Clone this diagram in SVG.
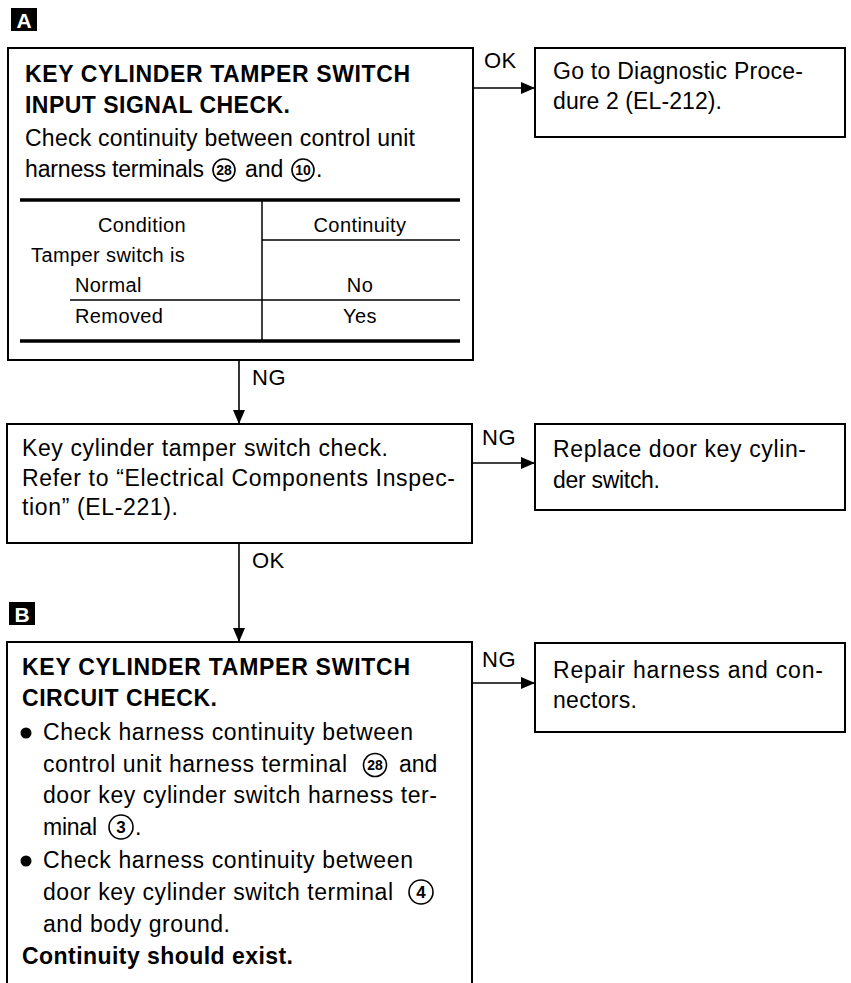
<svg xmlns="http://www.w3.org/2000/svg" width="851" height="983" viewBox="0 0 851 983">
<style>
text{font-family:"Liberation Sans",Arial,Helvetica,sans-serif;fill:#000}
.t{font-size:23px}
.b{font-size:23px;font-weight:bold}
.tb{font-size:20px;letter-spacing:0.4px}
.lb{font-size:22px;letter-spacing:0.5px}
.cn{font-size:14px;font-weight:bold;text-anchor:middle}
.cn1{font-size:17px;font-weight:bold;text-anchor:middle}
.box{fill:#fff;stroke:#000;stroke-width:2}
.ln{stroke:#000;stroke-width:1.6;fill:none}
.thk{stroke:#000;stroke-width:3.5}
.thin{stroke:#000;stroke-width:1.5}
.circ{fill:none;stroke:#000;stroke-width:1.6}
.badge{fill:#000}
.bt{font-size:21px;font-weight:bold;fill:#fff;text-anchor:middle}
</style>
<defs>
<marker id="ah" markerWidth="14" markerHeight="12" refX="14" refY="6" orient="auto" markerUnits="userSpaceOnUse">
<path d="M0,0 L14,6 L0,12 Z" fill="#000"/>
</marker>
</defs>
<rect width="851" height="983" fill="#fff"/>

<g id="badgeA">
<rect class="badge" x="11" y="8" width="26" height="23"/>
<text class="bt" x="24" y="28">A</text>
</g>

<g id="badgeB">
<rect class="badge" x="9" y="602" width="26" height="23"/>
<text class="bt" x="22" y="622">B</text>
</g>

<g id="nodeA">
<rect class="box" x="8" y="48" width="465" height="312"/>
<text class="b" x="25" y="82" textLength="385" lengthAdjust="spacing">KEY CYLINDER TAMPER SWITCH</text>
<text class="b" x="25" y="113" textLength="265" lengthAdjust="spacing">INPUT SIGNAL CHECK.</text>
<text class="t" x="25" y="146" textLength="390" lengthAdjust="spacing">Check continuity between control unit</text>
<text class="t" x="25" y="177" textLength="179" lengthAdjust="spacing">harness terminals</text>
<circle class="circ" cx="224" cy="170" r="11"/>
<text class="cn" x="224" y="175">28</text>
<text class="t" x="245" y="177">and</text>
<circle class="circ" cx="303" cy="170" r="11"/>
<text class="cn" x="303" y="175">10</text>
<text class="t" x="316" y="177">.</text>
<line class="thk" x1="20" y1="200" x2="460" y2="200"/>
<line class="thin" x1="262" y1="200" x2="262" y2="341"/>
<line class="thin" x1="262" y1="240" x2="460" y2="240"/>
<line class="thin" x1="70" y1="300" x2="460" y2="300"/>
<line class="thk" x1="20" y1="341" x2="460" y2="341"/>
<text class="tb" x="142" y="232" text-anchor="middle">Condition</text>
<text class="tb" x="360" y="232" text-anchor="middle">Continuity</text>
<text class="tb" x="31" y="262">Tamper switch is</text>
<text class="tb" x="75" y="292">Normal</text>
<text class="tb" x="360" y="292" text-anchor="middle">No</text>
<text class="tb" x="75" y="323">Removed</text>
<text class="tb" x="360" y="323" text-anchor="middle">Yes</text>
</g>

<g id="nodeGo">
<rect class="box" x="535" y="48" width="310" height="89"/>
<text class="t" x="553" y="79" textLength="250" lengthAdjust="spacing">Go to Diagnostic Proce-</text>
<text class="t" x="553" y="109" textLength="169" lengthAdjust="spacing">dure 2 (EL-212).</text>
</g>

<g id="nodeKeyCheck">
<rect class="box" x="7" y="424" width="465" height="119"/>
<text class="t" x="22" y="456" textLength="366" lengthAdjust="spacing">Key cylinder tamper switch check.</text>
<text class="t" x="22" y="486" textLength="433" lengthAdjust="spacing">Refer to “Electrical Components Inspec-</text>
<text class="t" x="22" y="515" textLength="156" lengthAdjust="spacing">tion” (EL-221).</text>
</g>

<g id="nodeReplace">
<rect class="box" x="535" y="424" width="310" height="86"/>
<text class="t" x="553" y="457" textLength="253" lengthAdjust="spacing">Replace door key cylin-</text>
<text class="t" x="553" y="488" textLength="107" lengthAdjust="spacing">der switch.</text>
</g>

<g id="nodeB">
<path d="M7,983 V642 H472 V983" fill="#fff" stroke="#000" stroke-width="2"/>
<text class="b" x="22" y="675" textLength="388" lengthAdjust="spacing">KEY CYLINDER TAMPER SWITCH</text>
<text class="b" x="22" y="706" textLength="195" lengthAdjust="spacing">CIRCUIT CHECK.</text>
<circle cx="26" cy="733" r="5.5" fill="#000"/>
<text class="t" x="43" y="740" textLength="370" lengthAdjust="spacing">Check harness continuity between</text>
<text class="t" x="43" y="772" textLength="304" lengthAdjust="spacing">control unit harness terminal</text>
<circle class="circ" cx="375" cy="765" r="11.5"/>
<text class="cn" x="375" y="770">28</text>
<text class="t" x="399" y="772">and</text>
<text class="t" x="43" y="803" textLength="394" lengthAdjust="spacing">door key cylinder switch harness ter-</text>
<text class="t" x="43" y="835" textLength="54" lengthAdjust="spacing">minal</text>
<circle class="circ" cx="121" cy="827" r="12"/>
<text class="cn1" x="121" y="833">3</text>
<text class="t" x="135" y="835">.</text>
<circle cx="26" cy="861" r="5.5" fill="#000"/>
<text class="t" x="43" y="868" textLength="370" lengthAdjust="spacing">Check harness continuity between</text>
<text class="t" x="43" y="900" textLength="350" lengthAdjust="spacing">door key cylinder switch terminal</text>
<circle class="circ" cx="421" cy="892" r="12"/>
<text class="cn1" x="421" y="898">4</text>
<text class="t" x="43" y="932" textLength="187" lengthAdjust="spacing">and body ground.</text>
<text class="b" x="22" y="964" textLength="271" lengthAdjust="spacing">Continuity should exist.</text>
</g>

<g id="nodeRepair">
<rect class="box" x="535" y="643" width="310" height="89"/>
<text class="t" x="553" y="678" textLength="270" lengthAdjust="spacing">Repair harness and con-</text>
<text class="t" x="553" y="708" textLength="84" lengthAdjust="spacing">nectors.</text>
</g>

<g id="connectors">
<line class="ln" x1="473" y1="88" x2="535" y2="88" marker-end="url(#ah)"/>
<text class="lb" x="484" y="68">OK</text>
<line class="ln" x1="239" y1="360" x2="239" y2="424" marker-end="url(#ah)"/>
<text class="lb" x="252" y="385">NG</text>
<line class="ln" x1="472" y1="463" x2="535" y2="463" marker-end="url(#ah)"/>
<text class="lb" x="482" y="445">NG</text>
<line class="ln" x1="239" y1="543" x2="239" y2="642" marker-end="url(#ah)"/>
<text class="lb" x="252" y="568">OK</text>
<line class="ln" x1="472" y1="683" x2="535" y2="683" marker-end="url(#ah)"/>
<text class="lb" x="482" y="667">NG</text>
</g>
</svg>
